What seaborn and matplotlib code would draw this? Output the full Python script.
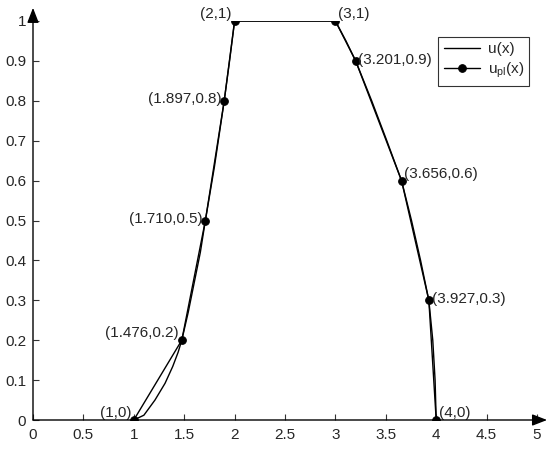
import matplotlib
matplotlib.use("Agg")
import matplotlib.pyplot as plt
import numpy as np
import pandas as pd
import seaborn as sns

# smooth curve u(x)
u_x = [1.0, 1.1, 1.21, 1.31, 1.386, 1.44, 1.476, 1.54, 1.6, 1.66, 1.71, 1.8, 1.897, 1.95, 2.0,
       3.0, 3.105, 3.201, 3.36, 3.51, 3.656, 3.755, 3.845, 3.927, 3.966, 3.989, 4.0]
u_y = [0.0, 0.012, 0.05, 0.092, 0.134, 0.17, 0.2, 0.27, 0.345, 0.42, 0.5, 0.635, 0.8, 0.9, 1.0,
       1.0, 0.95, 0.9, 0.8, 0.7, 0.6, 0.5, 0.4, 0.3, 0.2, 0.1, 0.0]

# piecewise linear interpolant u_pl(x)
pl_x = [1, 1.476, 1.710, 1.897, 2, 3, 3.201, 3.656, 3.927, 4]
pl_y = [0, 0.2, 0.5, 0.8, 1, 1, 0.9, 0.6, 0.3, 0]
pl_labels = ["(1,0)", "(1.476,0.2)", "(1.710,0.5)", "(1.897,0.8)", "(2,1)",
             "(3,1)", "(3.201,0.9)", "(3.656,0.6)", "(3.927,0.3)", "(4,0)"]

x_ticks = [0, 0.5, 1, 1.5, 2, 2.5, 3, 3.5, 4, 4.5, 5]
x_ticklabels = ["0", "0.5", "1", "1.5", "2", "2.5", "3", "3.5", "4", "4.5", "5"]
y_ticks = [0, 0.1, 0.2, 0.3, 0.4, 0.5, 0.6, 0.7, 0.8, 0.9, 1]
y_ticklabels = ["0", "0.1", "0.2", "0.3", "0.4", "0.5", "0.6", "0.7", "0.8", "0.9", "1"]

sns.set_style("white")
plt.rcParams["font.family"] = ["Liberation Sans", "DejaVu Sans"]
plt.rcParams["mathtext.fontset"] = "custom"
plt.rcParams["mathtext.rm"] = "Liberation Sans"
plt.rcParams["mathtext.it"] = "Liberation Sans"

fig = plt.figure(figsize=(5.5, 4.51), dpi=100)
ax = fig.add_axes([33 / 550, 31 / 451, 504 / 550, 399 / 451])

df_u = pd.DataFrame({"x": u_x, "y": u_y})
df_pl = pd.DataFrame({"x": pl_x, "y": pl_y})

sns.lineplot(data=df_u, x="x", y="y", sort=False, color="black", lw=1,
             label="u(x)", ax=ax)
sns.lineplot(data=df_pl, x="x", y="y", sort=False, color="black", lw=1,
             marker="o", markersize=5.5, markeredgecolor="black",
             markerfacecolor="black", label="u$_{pl}$(x)", ax=ax)

# point labels: left half to the left, right half to the right
valign = ["bottom", "bottom", "center", "center", "bottom",
          "bottom", "center", "bottom", "center", "bottom"]
for i, (px, py, lab) in enumerate(zip(pl_x, pl_y, pl_labels)):
    left = i < 5
    ax.annotate(lab, (px, py), xytext=(-2 if left else 2, 1 if valign[i] == "center" else 0),
                textcoords="offset points", ha="right" if left else "left",
                va=valign[i], fontsize=11, annotation_clip=False)

ax.set_xlim(0, 5)
ax.set_ylim(0, 1)
ax.set_xticks(x_ticks)
ax.set_xticklabels(x_ticklabels)
ax.set_yticks(y_ticks)
ax.set_yticklabels(y_ticklabels)
ax.set_xlabel("")
ax.set_ylabel("")
ax.tick_params(direction="in", length=4, width=0.8, labelsize=11,
               bottom=True, left=True, color="#333333")
ax.tick_params(axis="x", pad=6)
ax.tick_params(axis="y", pad=5)
for s in ax.spines.values():
    s.set_visible(False)

# axis arrows
arrow = dict(arrowstyle="-|>,head_length=0.9,head_width=0.35", color="black", lw=1,
             shrinkA=0, shrinkB=0)
ax.annotate("", xy=(5.1, 0), xytext=(0, 0), arrowprops=arrow, annotation_clip=False)
ax.annotate("", xy=(0, 1.033), xytext=(0, 0), arrowprops=arrow, annotation_clip=False)

leg = ax.legend(loc="upper right", bbox_to_anchor=(0.985, 0.96), fontsize=11,
                frameon=True, fancybox=False, handlelength=2.4, borderpad=0.35,
                labelspacing=0.3, handletextpad=0.5, borderaxespad=0)
leg.get_frame().set_edgecolor("black")
leg.get_frame().set_linewidth(0.8)

fig.savefig("out.png", dpi=100)
